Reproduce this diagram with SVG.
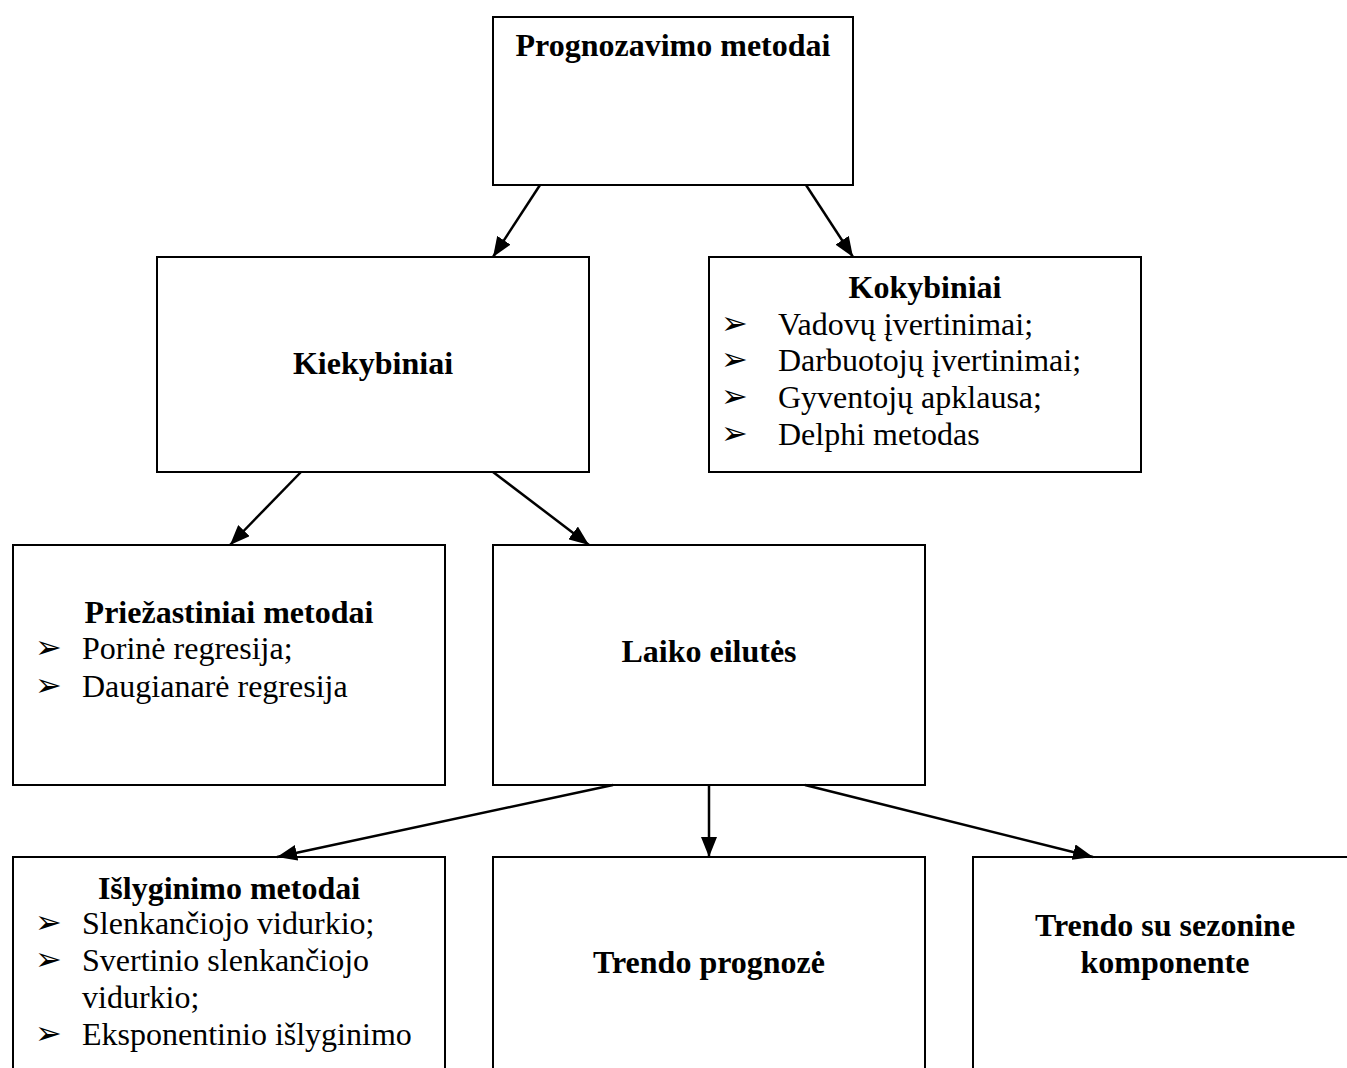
<svg xmlns="http://www.w3.org/2000/svg" width="1347" height="1068" viewBox="0 0 1347 1068">
<defs>
<marker id="ah" markerWidth="20" markerHeight="16" viewBox="0 0 20 16" refX="20" refY="8" orient="auto" markerUnits="userSpaceOnUse">
<path d="M0,0 L20,8 L0,16 Z" fill="#000"/>
</marker>
<style>
.box{fill:#fff;stroke:#000;stroke-width:2}
.t{font-family:"Liberation Serif","Times New Roman",serif;font-size:32px;fill:#000}
.b{font-weight:bold}
.c{text-anchor:middle}
.bul{font-family:"DejaVu Sans",sans-serif;font-size:32px;fill:#000}
.con line{stroke:#000;stroke-width:2.5;marker-end:url(#ah)}
</style>
</defs>
<rect width="1347" height="1068" fill="#fff"/>
<g id="n-prognozavimo">
<rect class="box" x="493" y="17" width="360" height="168"/>
<text class="t b c" x="673" y="56">Prognozavimo metodai</text>
</g>
<g id="n-kiekybiniai">
<rect class="box" x="157" y="257" width="432" height="215"/>
<text class="t b c" x="373" y="374">Kiekybiniai</text>
</g>
<g id="n-kokybiniai">
<rect class="box" x="709" y="257" width="432" height="215"/>
<text class="t b c" x="925" y="298">Kokybiniai</text>
<text class="bul" x="721" y="334">➢</text><text class="t" x="778" y="335">Vadovų įvertinimai;</text>
<text class="bul" x="721" y="370">➢</text><text class="t" x="778" y="371">Darbuotojų įvertinimai;</text>
<text class="bul" x="721" y="407">➢</text><text class="t" x="778" y="408">Gyventojų apklausa;</text>
<text class="bul" x="721" y="444">➢</text><text class="t" x="778" y="445">Delphi metodas</text>
</g>
<g id="n-priezastiniai">
<rect class="box" x="13" y="545" width="432" height="240"/>
<text class="t b c" x="229" y="623">Priežastiniai metodai</text>
<text class="bul" x="35" y="658">➢</text><text class="t" x="82" y="659">Porinė regresija;</text>
<text class="bul" x="35" y="696">➢</text><text class="t" x="82" y="697">Daugianarė regresija</text>
</g>
<g id="n-laiko">
<rect class="box" x="493" y="545" width="432" height="240"/>
<text class="t b c" x="709" y="662">Laiko eilutės</text>
</g>
<g id="n-islyginimo">
<rect class="box" x="13" y="857" width="432" height="240"/>
<text class="t b c" x="229" y="899">Išlyginimo metodai</text>
<text class="bul" x="35" y="933">➢</text><text class="t" x="82" y="934">Slenkančiojo vidurkio;</text>
<text class="bul" x="35" y="970">➢</text><text class="t" x="82" y="971">Svertinio slenkančiojo</text>
<text class="t" x="82" y="1008">vidurkio;</text>
<text class="bul" x="35" y="1044">➢</text><text class="t" x="82" y="1045">Eksponentinio išlyginimo</text>
</g>
<g id="n-trendo">
<rect class="box" x="493" y="857" width="432" height="240"/>
<text class="t b c" x="709" y="973">Trendo prognozė</text>
</g>
<g id="n-sezonine">
<rect class="box" x="973" y="857" width="400" height="240"/>
<text class="t b c" x="1165" y="936">Trendo su sezonine</text>
<text class="t b c" x="1165" y="973">komponente</text>
</g>
<g id="connectors" class="con">
<line x1="540" y1="185" x2="493" y2="257"/>
<line x1="806" y1="185" x2="853" y2="257"/>
<line x1="301" y1="472" x2="230" y2="545"/>
<line x1="493" y1="472" x2="589" y2="545"/>
<line x1="613" y1="785" x2="277" y2="857"/>
<line x1="709" y1="785" x2="709" y2="857"/>
<line x1="805" y1="785" x2="1093" y2="857"/>
</g>
</svg>
